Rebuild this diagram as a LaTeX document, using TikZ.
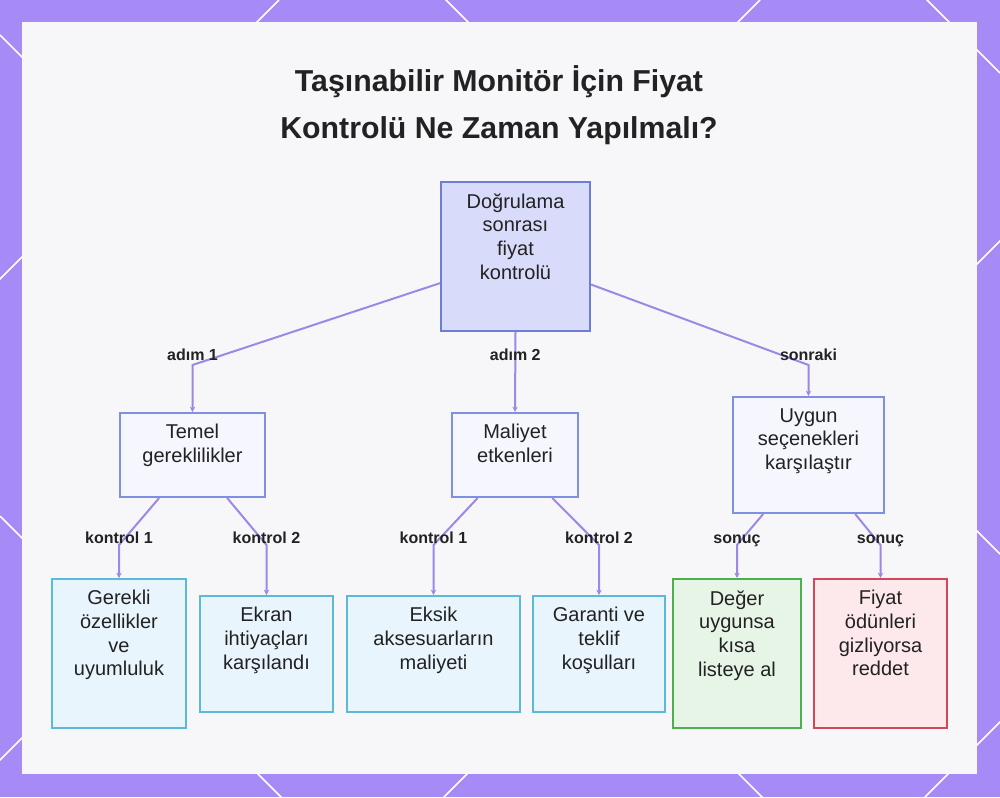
\documentclass[tikz,border=0pt]{standalone}
\usepackage{fontspec}
\setmainfont{Liberation Sans}
\usetikzlibrary{arrows.meta,positioning,calc}
\definecolor{frame}{HTML}{A68BF6}
\definecolor{panel}{HTML}{F7F7F9}
\definecolor{ink}{HTML}{222222}
\definecolor{wire}{HTML}{9D88E6}
\definecolor{rootfill}{HTML}{D9DBFA}
\definecolor{rootline}{HTML}{6E7DD8}
\definecolor{midfill}{HTML}{F5F6FE}
\definecolor{midline}{HTML}{8090E0}
\definecolor{leaffill}{HTML}{E8F5FC}
\definecolor{leafline}{HTML}{5BB9DB}
\definecolor{okfill}{HTML}{E7F5E7}
\definecolor{okline}{HTML}{4CAF50}
\definecolor{nofill}{HTML}{FDE8EC}
\definecolor{noline}{HTML}{D2475A}
\tikzset{
  box/.style={draw, line width=1.5pt, inner sep=0pt},
  txt/.style={font=\fontsize{15}{17.8}\selectfont, text=ink, align=center, anchor=north, inner sep=0pt, yshift=-9pt},
  top/.style={box, fill=rootfill, draw=rootline},
  mid/.style={box, fill=midfill, draw=midline},
  leaf/.style={box, fill=leaffill, draw=leafline},
  good/.style={box, fill=okfill, draw=okline},
  bad/.style={box, fill=nofill, draw=noline},
  edge/.style={draw=wire, line width=1.5pt, -{Stealth[length=4pt, width=4pt]}},
  lbl/.style={font=\fontsize{12}{14}\selectfont\bfseries, text=ink, inner sep=0pt, anchor=base, yshift=#1},
  lbl/.default=1.5pt,
  ttl/.style={font=\fontsize{22.7}{35}\selectfont\bfseries, text=ink, align=center}
}

\begin{document}
\begin{tikzpicture}[x=0.75pt, y=-0.75pt]
  \useasboundingbox (0,0) rectangle (1000,797);
  % frame and panel
  \fill[frame] (0,0) rectangle (1000,797);
  \foreach \c in {279,760,1241,1722}
    \draw[white, line width=1.2pt] (\c,0) -- (\c-797,797);
  \foreach \d in {35,516,-446,-927}
    \draw[white, line width=1.2pt] (0,\d) -- (1000,1000+\d);
  \fill[panel] (22,22) rectangle (977,774);

  \node[ttl] (title) at (499,105) {Taşınabilir Monitör İçin Fiyat\\Kontrolü Ne Zaman Yapılmalı?};

  % tree
  \node[top, minimum width=111.75pt, minimum height=111.75pt, label={[txt]north:{Doğrulama\\sonrası\\fiyat\\kontrolü}}] (root) at (515.5,256.5) {};

  \node[mid, minimum width=108.75pt, minimum height=63pt, label={[txt]north:{Temel\\gereklilikler}}] (temel) at (192.5,455) {};
  \node[mid, minimum width=94.5pt, minimum height=63pt, label={[txt]north:{Maliyet\\etkenleri}}] (maliyet) at (515,455) {};
  \node[mid, minimum width=113.25pt, minimum height=87pt, label={[txt]north:{Uygun\\seçenekleri\\karşılaştır}}] (uygun) at (808.5,455) {};

  \node[leaf, minimum width=100.5pt, minimum height=111.75pt, label={[txt]north:{Gerekli\\özellikler\\ve\\uyumluluk}}] (gerekli) at (119,653.5) {};
  \node[leaf, minimum width=99.75pt, minimum height=87pt, label={[txt]north:{Ekran\\ihtiyaçları\\karşılandı}}] (ekran) at (266.5,654) {};
  \node[leaf, minimum width=129.75pt, minimum height=87pt, label={[txt]north:{Eksik\\aksesuarların\\maliyeti}}] (eksik) at (433.5,654) {};
  \node[leaf, minimum width=99pt, minimum height=87pt, label={[txt]north:{Garanti ve\\teklif\\koşulları}}] (garanti) at (599,654) {};
  \node[good, minimum width=96pt, minimum height=111.75pt, label={[txt]north:{Değer\\uygunsa\\kısa\\listeye al}}] (deger) at (737,653.5) {};
  \node[bad, minimum width=99.75pt, minimum height=111.75pt, label={[txt]north:{Fiyat\\ödünleri\\gizliyorsa\\reddet}}] (fiyat) at (880.5,653.5) {};

  \coordinate (row1) at (0,365);
  \coordinate (row2) at (0,545);

  \draw[edge] ([yshift=-20pt]root.west) -- (temel.north |- row1) node[lbl=3.75pt]{adım 1} -- (temel.north);
  \draw[edge] (root.south) -- node[lbl=3.75pt, pos=0.415]{adım 2} (maliyet.north);
  \draw[edge] ([yshift=-21pt]root.east) -- (uygun.north |- row1) node[lbl=3.75pt]{sonraki} -- (uygun.north);

  \draw[edge] ([xshift=-25pt]temel.south) -- (gerekli.north |- row2) node[lbl]{kontrol 1} -- (gerekli.north);
  \draw[edge] ([xshift=26pt]temel.south) -- (ekran.north |- row2) node[lbl]{kontrol 2} -- (ekran.north);
  \draw[edge] ([xshift=-28pt]maliyet.south) -- (eksik.north |- row2) node[lbl]{kontrol 1} -- (eksik.north);
  \draw[edge] ([xshift=28pt]maliyet.south) -- (garanti.north |- row2) node[lbl]{kontrol 2} -- (garanti.north);
  \draw[edge] ([xshift=-34pt]uygun.south) -- (deger.north |- row2) node[lbl]{sonuç} -- (deger.north);
  \draw[edge] ([xshift=35pt]uygun.south) -- (fiyat.north |- row2) node[lbl]{sonuç} -- (fiyat.north);
\end{tikzpicture}
\end{document}
